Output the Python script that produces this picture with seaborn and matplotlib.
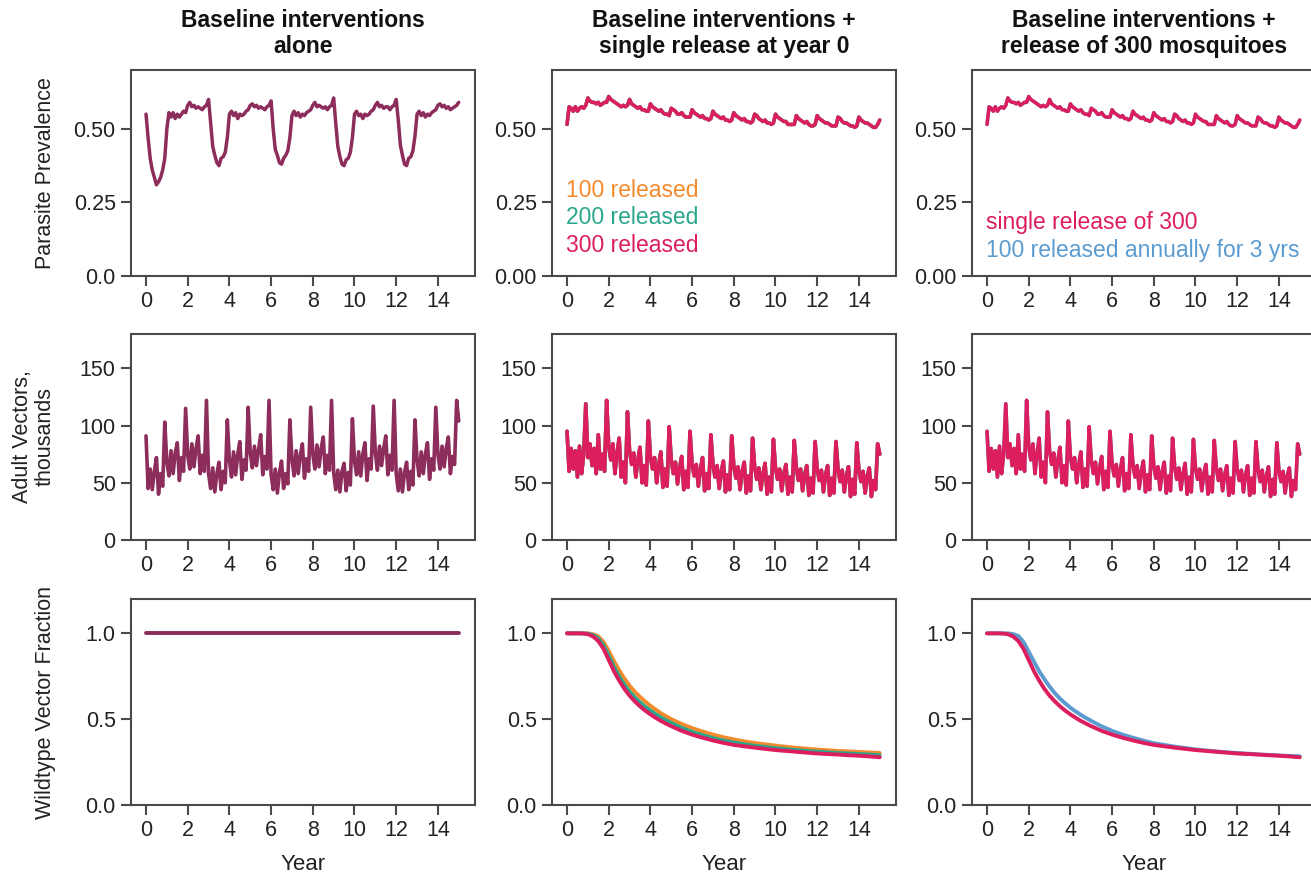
import numpy as np
import matplotlib
matplotlib.use("Agg")
import matplotlib.pyplot as plt
import seaborn as sns

# --- data ---------------------------------------------------------------
years = np.round(np.arange(151) * 0.1, 1)          # 0.0 .. 15.0, step 0.1
wt_years = [0.0, 0.25, 0.5, 0.75, 1.0, 1.25, 1.5, 1.75, 2.0, 2.25, 2.5,
            2.75, 3.0, 3.25, 3.5, 3.75, 4.0, 4.25, 4.5, 4.75, 5.0,
            5.5, 6.0, 6.5, 7.0, 7.5, 8.0, 8.5, 9.0, 9.5, 10.0,
            10.5, 11.0, 11.5, 12.0, 12.5, 13.0, 13.5, 14.0, 14.5, 15.0]

prev_base = [
    0.55, 0.47, 0.40, 0.36, 0.335, 0.31, 0.32, 0.335, 0.36, 0.40,
    0.50, 0.555, 0.54, 0.555, 0.535, 0.55, 0.54, 0.55, 0.56, 0.555,
    0.58, 0.59, 0.575, 0.58, 0.57, 0.575, 0.57, 0.565, 0.575, 0.58,
    0.60, 0.52, 0.44, 0.41, 0.385, 0.375, 0.40, 0.405, 0.42, 0.47,
    0.55, 0.56, 0.545, 0.555, 0.535, 0.55, 0.545, 0.55, 0.56, 0.565,
    0.58, 0.585, 0.575, 0.58, 0.57, 0.575, 0.57, 0.565, 0.575, 0.58,
    0.595, 0.50, 0.43, 0.41, 0.385, 0.38, 0.40, 0.41, 0.425, 0.47,
    0.545, 0.56, 0.545, 0.555, 0.54, 0.55, 0.545, 0.555, 0.56, 0.565,
    0.58, 0.59, 0.575, 0.58, 0.575, 0.57, 0.575, 0.565, 0.575, 0.58,
    0.605, 0.52, 0.44, 0.405, 0.38, 0.375, 0.395, 0.40, 0.42, 0.47,
    0.55, 0.56, 0.545, 0.55, 0.535, 0.55, 0.545, 0.55, 0.56, 0.565,
    0.58, 0.59, 0.575, 0.58, 0.57, 0.575, 0.575, 0.565, 0.575, 0.58,
    0.60, 0.53, 0.445, 0.41, 0.38, 0.375, 0.40, 0.405, 0.425, 0.475,
    0.55, 0.56, 0.545, 0.555, 0.54, 0.55, 0.545, 0.555, 0.56, 0.565,
    0.58, 0.585, 0.575, 0.58, 0.57, 0.575, 0.565, 0.57, 0.575, 0.58,
    0.59,
]

prev_release = [
    0.515, 0.575, 0.57, 0.56, 0.575, 0.56, 0.57, 0.575, 0.57, 0.58,
    0.605, 0.595, 0.59, 0.59, 0.585, 0.59, 0.58, 0.585, 0.59, 0.59,
    0.61, 0.60, 0.595, 0.59, 0.585, 0.58, 0.575, 0.58, 0.575, 0.58,
    0.60, 0.585, 0.58, 0.575, 0.57, 0.575, 0.565, 0.565, 0.56, 0.56,
    0.585, 0.575, 0.57, 0.565, 0.56, 0.565, 0.555, 0.55, 0.55, 0.545,
    0.57, 0.565, 0.56, 0.55, 0.55, 0.555, 0.545, 0.54, 0.54, 0.54,
    0.565, 0.555, 0.55, 0.545, 0.54, 0.545, 0.535, 0.535, 0.53, 0.535,
    0.56, 0.55, 0.545, 0.54, 0.535, 0.54, 0.53, 0.53, 0.525, 0.53,
    0.555, 0.545, 0.54, 0.535, 0.53, 0.535, 0.525, 0.525, 0.52, 0.525,
    0.55, 0.545, 0.535, 0.53, 0.525, 0.53, 0.52, 0.52, 0.515, 0.52,
    0.55, 0.54, 0.535, 0.53, 0.525, 0.525, 0.515, 0.515, 0.515, 0.515,
    0.545, 0.535, 0.53, 0.525, 0.52, 0.525, 0.515, 0.51, 0.51, 0.515,
    0.545, 0.535, 0.53, 0.525, 0.52, 0.52, 0.515, 0.51, 0.51, 0.51,
    0.54, 0.535, 0.525, 0.52, 0.52, 0.515, 0.51, 0.51, 0.505, 0.51,
    0.54, 0.53, 0.525, 0.52, 0.52, 0.515, 0.51, 0.505, 0.505, 0.515,
    0.53,
]

vec_base = [
    91, 45, 62, 44, 60, 72, 40, 58, 47, 103,
    68, 56, 78, 58, 76, 85, 52, 72, 60, 115,
    74, 62, 84, 64, 80, 91, 58, 74, 60, 122,
    58, 45, 63, 42, 58, 68, 44, 60, 50, 105,
    70, 55, 77, 57, 75, 86, 53, 70, 61, 116,
    76, 63, 82, 65, 79, 92, 57, 73, 62, 122,
    57, 44, 62, 41, 59, 69, 45, 58, 49, 105,
    71, 56, 78, 58, 74, 84, 54, 71, 60, 116,
    75, 62, 83, 64, 80, 90, 58, 74, 61, 122,
    59, 44, 61, 42, 60, 67, 43, 59, 48, 106,
    69, 57, 77, 56, 75, 85, 52, 71, 62, 117,
    76, 61, 82, 65, 80, 91, 57, 74, 61, 122,
    58, 43, 62, 42, 59, 68, 44, 60, 48, 105,
    70, 56, 77, 58, 75, 85, 53, 71, 61, 116,
    75, 62, 82, 64, 80, 90, 58, 73, 66, 122,
    104,
]

vec_release = [
    95, 60, 80, 62, 78, 55, 82, 58, 75, 119,
    72, 84, 65, 80, 58, 92, 62, 75, 60, 122,
    82, 70, 84, 58, 76, 89, 55, 68, 50, 112,
    78, 66, 76, 55, 70, 81, 50, 65, 48, 104,
    73, 62, 72, 50, 66, 77, 46, 62, 47, 99,
    70, 58, 68, 49, 63, 73, 44, 60, 46, 95,
    66, 56, 66, 47, 62, 72, 43, 58, 45, 92,
    66, 55, 65, 45, 60, 69, 42, 57, 44, 91,
    65, 54, 64, 44, 60, 68, 41, 56, 43, 89,
    64, 53, 63, 44, 58, 67, 40, 55, 42, 88,
    63, 53, 62, 43, 58, 66, 40, 55, 42, 87,
    63, 52, 62, 43, 57, 65, 39, 54, 41, 86,
    62, 52, 61, 42, 57, 65, 39, 54, 41, 86,
    62, 51, 61, 42, 56, 64, 38, 53, 40, 85,
    61, 51, 60, 41, 56, 63, 38, 52, 44, 84,
    75,
]

wt_base = [1.0] * 41
wt_100 = [1.0, 1.0, 1.0, 1.0, 1.0, 0.995, 0.982, 0.95, 0.897, 0.838, 0.785,
          0.737, 0.695, 0.66, 0.63, 0.603, 0.578, 0.556, 0.535, 0.517, 0.50,
          0.472, 0.448, 0.428, 0.41, 0.395, 0.382, 0.371, 0.361, 0.353, 0.346,
          0.339, 0.333, 0.328, 0.323, 0.319, 0.315, 0.312, 0.309, 0.306, 0.303]
wt_200 = [1.0, 1.0, 1.0, 1.0, 0.998, 0.99, 0.97, 0.93, 0.87, 0.805, 0.75,
          0.70, 0.66, 0.627, 0.598, 0.572, 0.55, 0.529, 0.51, 0.493, 0.478,
          0.45, 0.426, 0.407, 0.39, 0.376, 0.364, 0.354, 0.345, 0.338, 0.331,
          0.325, 0.32, 0.315, 0.311, 0.307, 0.303, 0.30, 0.297, 0.294, 0.29]
wt_300 = [1.0, 1.0, 1.0, 0.999, 0.995, 0.982, 0.955, 0.91, 0.845, 0.78, 0.725,
          0.677, 0.637, 0.604, 0.575, 0.55, 0.528, 0.508, 0.49, 0.474, 0.459,
          0.432, 0.41, 0.392, 0.376, 0.362, 0.35, 0.342, 0.334, 0.327, 0.32,
          0.315, 0.31, 0.305, 0.30, 0.297, 0.294, 0.29, 0.287, 0.283, 0.278]
wt_annual = [1.0, 1.0, 1.0, 1.0, 1.0, 0.996, 0.985, 0.95, 0.893, 0.835, 0.78,
             0.733, 0.69, 0.652, 0.62, 0.592, 0.567, 0.545, 0.525, 0.507, 0.49,
             0.458, 0.432, 0.41, 0.392, 0.375, 0.36, 0.35, 0.34, 0.332, 0.324,
             0.318, 0.312, 0.307, 0.303, 0.299, 0.295, 0.292, 0.289, 0.286, 0.284]

col_titles = ['Baseline interventions\nalone',
              'Baseline interventions +\nsingle release at year 0',
              'Baseline interventions +\nrelease of 300 mosquitoes']
row_labels = ['Parasite Prevalence', 'Adult Vectors,\nthousands', 'Wildtype Vector Fraction']

colors = {'base': '#8c2d5c', 'r100': '#f58a2c', 'r200': '#2aa68c',
          'r300': '#dc1d5e', 'annual': '#5b9bd0'}

# --- figure -------------------------------------------------------------
sns.set_theme(style='ticks')
plt.rcParams['font.family'] = ['Liberation Sans', 'DejaVu Sans']

W, H = 1311, 880
fig = plt.figure(figsize=(W / 100, H / 100), dpi=100)

lefts = [131, 552, 972]
bottoms = [276, 540, 805]
aw, ah = 344, 206

axes = [[fig.add_axes([l / W, 1 - b / H, aw / W, ah / H]) for l in lefts] for b in bottoms]


def line(ax, x, y, c, lw=2.0):
    sns.lineplot(x=x, y=y, ax=ax, color=c, lw=lw, estimator=None, legend=False)


# row 1: parasite prevalence
line(axes[0][0], years, prev_base, colors['base'], lw=2.5)
for key in ['r100', 'r200', 'r300']:
    line(axes[0][1], years, prev_release, colors[key], lw=2.5)
for key in ['annual', 'r300']:
    line(axes[0][2], years, prev_release, colors[key], lw=2.5)

# row 2: adult vectors
line(axes[1][0], years, vec_base, colors['base'], lw=2.6)
for key in ['r100', 'r200', 'r300']:
    line(axes[1][1], years, vec_release, colors[key], lw=2.6)
for key in ['annual', 'r300']:
    line(axes[1][2], years, vec_release, colors[key], lw=2.6)

# row 3: wildtype fraction
line(axes[2][0], wt_years, wt_base, colors['base'], lw=2.8)
line(axes[2][1], wt_years, wt_100, colors['r100'], lw=2.8)
line(axes[2][1], wt_years, wt_200, colors['r200'], lw=2.8)
line(axes[2][1], wt_years, wt_300, colors['r300'], lw=2.8)
line(axes[2][2], wt_years, wt_annual, colors['annual'], lw=2.8)
line(axes[2][2], wt_years, wt_300, colors['r300'], lw=2.8)

ylims = [(0, 0.70), (0, 180), (0, 1.2)]
yticks = [[0, 0.25, 0.5], [0, 50, 100, 150], [0, 0.5, 1.0]]
yticklabels = [
    [['0.0', '0.25', '0.50'], ['0.00', '0.25', '0.50'], ['0.00', '0.25', '0.50']],
    [['0', '50', '100', '150']] * 3,
    [['0.0', '0.5', '1.0']] * 3,
]

for r in range(3):
    for c in range(3):
        ax = axes[r][c]
        ax.set_xlim(-0.72, 15.78)
        ax.set_ylim(*ylims[r])
        ax.set_xticks(range(0, 15, 2))
        ax.set_yticks(yticks[r])
        ax.set_yticklabels(yticklabels[r][c])
        ax.set_xlabel('')
        ax.set_ylabel('')
        for s in ax.spines.values():
            s.set_visible(True)
            s.set_color('#4a4a4a')
            s.set_linewidth(1.5)
        ax.tick_params(direction='out', length=7, width=1.5, color='#4a4a4a',
                       labelsize=15.5, labelcolor='#222222', pad=4)
    axes[r][0].set_ylabel(row_labels[r], fontsize=15.5, color='#222222',
                          linespacing=1.1)
    axes[r][0].yaxis.set_label_coords(-0.218, 0.5)

for c in range(3):
    axes[0][c].set_title(col_titles[c], fontsize=16.5, fontweight='bold',
                         linespacing=1.2, pad=12, color='#111111')
    axes[2][c].set_xlabel('Year', fontsize=16, color='#222222', labelpad=9)

# coloured text legends
tx = axes[0][1]
for label, key, yy in [('100 released', 'r100', 0.417),
                       ('200 released', 'r200', 0.282),
                       ('300 released', 'r300', 0.146)]:
    tx.text(0.042, yy, label, color=colors[key], fontsize=16.5,
            transform=tx.transAxes, va='center', ha='left')
tx = axes[0][2]
for label, key, yy in [('single release of 300', 'r300', 0.262),
                       ('100 released annually for 3 yrs', 'annual', 0.126)]:
    tx.text(0.042, yy, label, color=colors[key], fontsize=16.5,
            transform=tx.transAxes, va='center', ha='left')

fig.savefig('out.png', dpi=100)
plt.close(fig)
